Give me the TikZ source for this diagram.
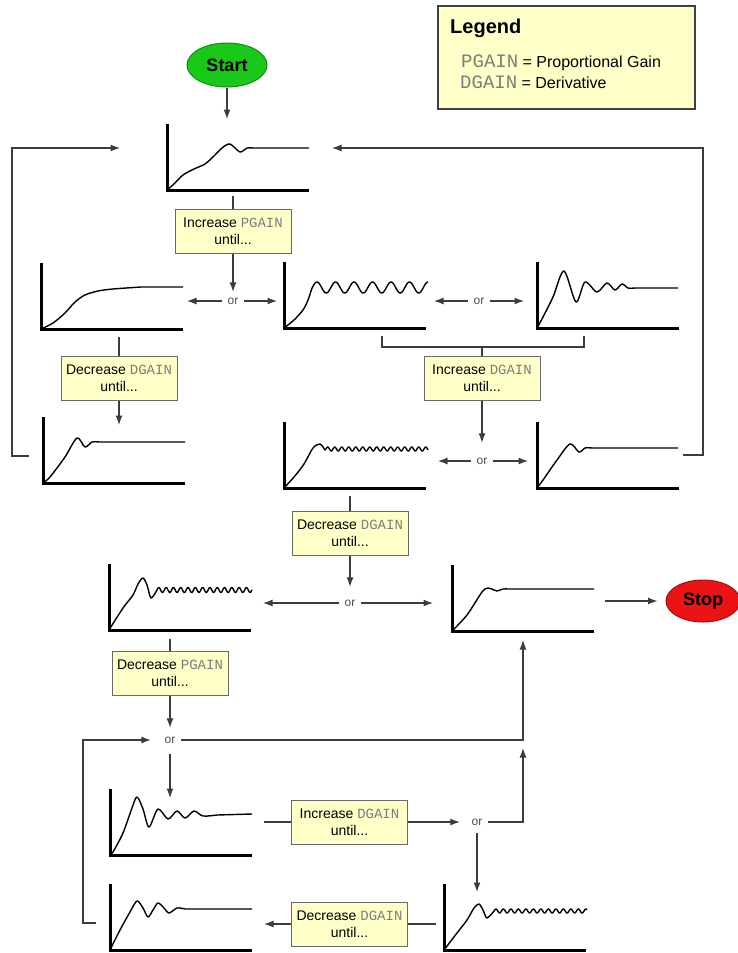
\documentclass[tikz,border=0pt]{standalone}
\usepackage{fontspec}
\setmainfont{Liberation Sans}
\setmonofont{Liberation Mono}
\usepackage{xcolor}
\usepackage{tikz}
\usetikzlibrary{arrows.meta, shapes.geometric}

\definecolor{note}{RGB}{255,255,200}
\definecolor{frame}{RGB}{105,105,105}
\definecolor{wire}{RGB}{60,60,60}
\definecolor{gaingray}{RGB}{125,125,125}
\definecolor{go}{RGB}{25,200,25}
\definecolor{halt}{RGB}{235,20,20}

\newcommand{\gain}[1]{{\ttfamily\color{gaingray}#1}}

\begin{document}
\begin{tikzpicture}[x=1pt, y=-1pt, >={Latex[length=9.5pt,width=7pt]},
    act/.style={rectangle, draw=frame, line width=1pt, fill=note, minimum width=116pt,
      minimum height=44pt, align=center, inner sep=2pt, font=\fontsize{14}{17}\selectfont},
    orl/.style={inner sep=0pt, minimum width=22pt, minimum height=18pt, text=black!70,
      font=\fontsize{12}{12}\selectfont},
    plt/.style={rectangle, inner sep=0pt, outer sep=0pt, minimum width=142pt,
      minimum height=66pt, anchor=south west},
    term/.style={ellipse, line width=1pt, inner sep=0pt, font=\bfseries\fontsize{18}{18}\selectfont},
    ax/.style={line width=3pt},
    crv/.style={line width=1.4pt, line join=round, shift={(#1.south west)}, yscale=-1},
    wr/.style={color=wire, line width=1.2pt},
    ln/.style={wr, draw},
    arr/.style={ln, ->}]
    \useasboundingbox (0,0) rectangle (738,953);

    \node[rectangle, draw=black!75, line width=1.2pt, fill=note, minimum width=257pt,
      minimum height=103pt] (lg) at (566.5,57.5) {};
    \node[anchor=base west, inner sep=0pt, font=\bfseries\fontsize{20}{20}\selectfont] (lgt) at (450,33) {Legend};
    \node[anchor=base west, inner sep=0pt, font=\fontsize{16}{16}\selectfont] (lg1) at (461,67)
      {{\fontsize{19}{19}\selectfont\gain{PGAIN}} = Proportional Gain};
    \node[anchor=base west, inner sep=0pt, font=\fontsize{16}{16}\selectfont] (lg2) at (460,88)
      {{\fontsize{19}{19}\selectfont\gain{DGAIN}} = Derivative};

    \node[term, fill=go, draw=go!70!black, minimum width=80pt, minimum height=44pt] (start) at (227,65) {Start};
    \node[term, fill=halt, draw=halt!70!black, minimum width=74pt, minimum height=42pt] (stop) at (703,601) {Stop};

    \node[plt] (pA) at (167,190) {};
    \node[plt] (pB) at (41,329) {};
    \node[plt] (pC) at (284,328) {};
    \node[plt] (pD) at (537,328) {};
    \node[plt] (pE) at (43,483) {};
    \node[plt] (pF) at (284,488) {};
    \node[plt] (pG) at (537,488) {};
    \node[plt] (pH) at (109,630) {};
    \node[plt] (pI) at (452,631) {};
    \node[plt] (pJ) at (110,855) {};
    \node[plt] (pK) at (444,950) {};
    \node[plt] (pL) at (110,950) {};

    \foreach \p in {pA,pB,pC,pD,pE,pF,pG,pH,pI,pJ,pK,pL}
        \draw[ax] (\p.north west) |- (\p.south east);

    \draw[crv=pA] plot[smooth] coordinates {(0,0) (8,7) (16,15) (27,21) (38,26) (47,34) (55,42) (63,46) (73,38) (80,42) (86,42)} -- (142,42);
    \draw[crv=pB] plot[smooth] coordinates {(0,0) (12,6) (24,16) (34,27) (44,34) (57,38) (72,40) (100,42)} -- (142,42);
    \draw[crv=pC] plot[smooth] coordinates {(0,0) (10,8) (19,18) (24,28) (28,40)}
        --plot[domain=28:144, samples=140] (\x,{40.5+5.5*sin((\x-33)*19.46+90)});
    \draw[crv=pD] plot[smooth] coordinates {(0,0) (6,11) (16,31) (27,57) (39,26) (48,46) (60,36) (70,45) (78,38) (85,44) (91,40) (98,40)} -- (141,40);
    \draw[crv=pE] plot[smooth] coordinates {(0,0) (7,6) (22,26) (34,45) (42,36) (49,41) (56,41)} -- (142,41);
    \draw[crv=pF] plot[smooth] coordinates {(0,0) (10,11) (20,24) (29,40) (36,44) (41,38)}
        --plot[domain=42:144, samples=160] (\x,{39+2*sin((\x-42)*51.43)});
    \draw[crv=pG] plot[smooth] coordinates {(0,0) (6,8) (20,28) (33,44) (42,36) (48,40) (55,40)} -- (141,40);
    \draw[crv=pH] plot[smooth] coordinates {(0,0) (14,22) (24,35) (29,46) (34,52) (38,45) (42,32) (48,40)}
        --plot[domain=48:143, samples=150] (\x,{40+2.5*sin((\x-48)*49.32)});
    \draw[crv=pI] plot[smooth] coordinates {(0,0) (15,16) (30,39) (36,43) (42,41) (45,40) (51,42) (56,42)} -- (142,42);
    \draw[crv=pJ] plot[smooth] coordinates {(0,0) (3,3) (13,22) (22,47) (27,58) (33,46) (39,28) (48,46) (58,36) (67,44) (75,37) (84,44) (93,39) (107,40)} -- (142,41);
    \draw[crv=pK] plot[smooth] coordinates {(0,0) (13,17) (23,30) (30,42) (35,46) (39,40) (43,32) (50,39)}
        --plot[domain=50:143, samples=150] (\x,{39+2*sin((\x-50)*48)});
    \draw[crv=pL] plot[smooth] coordinates {(0,0) (10,20) (20,38) (27,49) (33,42) (38,33) (43,40) (48,47) (54,42) (59,37) (67,42) (75,41)} -- (142,41);

    \node[act] (b1) at (233,231) {Increase \gain{PGAIN}\\until...};
    \node[act] (b2) at (482,378.5) {Increase \gain{DGAIN}\\until...};
    \node[act] (b3) at (119,378.5) {Decrease \gain{DGAIN}\\until...};
    \node[act] (b4) at (350,533.5) {Decrease \gain{DGAIN}\\until...};
    \node[act] (b5) at (170,673) {Decrease \gain{PGAIN}\\until...};
    \node[act] (b6) at (349.5,822) {Increase \gain{DGAIN}\\until...};
    \node[act] (b7) at (349.5,924) {Decrease \gain{DGAIN}\\until...};

    \node[orl] (o1) at (233,301) {or};
    \node[orl] (o2) at (479,301) {or};
    \node[orl] (o3) at (482,461) {or};
    \node[orl] (o4) at (350,603) {or};
    \node[orl] (o5) at (170,740) {or};
    \node[orl] (o6) at (477,822) {or};

    \coordinate (brL) at (382,336);
    \coordinate (brR) at (584,336);
    \coordinate (brM) at (482,347);
    \coordinate (jn) at (pI.south |- o5);

    \path[wr]
        (b1) edge[shorten >=6pt] (b1 |- pA.south)
        (b3) edge[shorten >=8pt] (b3 |- pB.south)
        (b4) edge[shorten >=8pt] (b4 |- pF.south)
        (b5) edge[shorten >=9pt] (b5 |- pH.south)
        (pJ.east) edge[shorten <=12pt] (b6)
        (b7 -| pK.west) edge[shorten <=8pt] (b7)
        (brM) edge (b2);
    \draw[ln] (brL) |- (brM) -| (brR);

    \path[wr, ->]
        (start) edge[shorten >=5pt] (start |- pA.north)
        (b1) edge (o1)
        (o1) edge[shorten >=4pt] (o1 -| pB.east)
             edge[shorten >=7pt] (o1 -| pC.west)
        (o2) edge[shorten >=8pt] (o2 -| pC.east)
             edge[shorten >=13pt] (o2 -| pD.west)
        (b2) edge[shorten >=9pt] (o3)
        (o3) edge[shorten >=12pt] (o3 -| pF.east)
             edge[shorten >=9pt] (o3 -| pG.west)
        (b3) edge[shorten >=-8pt] (b3 |- pE.north)
        (b4) edge[shorten >=7pt] (o4)
        (o4) edge[shorten >=12pt] (o4 -| pH.east)
             edge[shorten >=19pt] (o4 -| pI.west)
        (pI.east |- stop) edge[shorten <=11pt, shorten >=8pt] (stop)
        (b5) edge[shorten >=3pt] (o5)
        (o5) edge[shorten <=5pt, shorten >=-9pt] (o5 |- pJ.north)
        (b6) edge[shorten >=6pt] (o6)
        (o6) edge[shorten <=2pt, shorten >=-8pt] (o6 |- pK.north)
        (b7) edge[shorten >=12pt] (b7 -| pL.east);

    \draw[arr, shorten <=4pt] (pG.east) -- ++(24,0) |- ([xshift=23pt,yshift=9pt]pA.east);
    \draw[arr, shorten <=14pt] ([yshift=-6pt]pE.west) -- ++(-31,0) |- ([xshift=-47pt,yshift=9pt]pA.west);
    \draw[arr, shorten >=9pt] (o5) -| (pI.south);
    \draw[arr, shorten >=8pt] (o6) -| (jn);
    \draw[arr, shorten <=14pt, shorten >=8pt] ([yshift=-6pt]pL.west) -- ++(-27,0) |- (o5);
\end{tikzpicture}
\end{document}
